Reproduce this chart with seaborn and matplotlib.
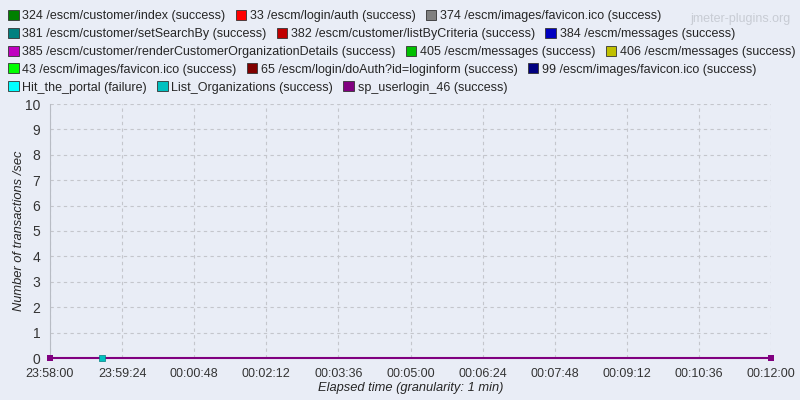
import numpy as np
import pandas as pd
import matplotlib
matplotlib.use("Agg")
import matplotlib.pyplot as plt
import matplotlib.patches as mpatches
import seaborn as sns

# =========================
# Datos
# =========================
labels = [
    "324 /escm/customer/index (success)", "33 /escm/login/auth (success)", "374 /escm/images/favicon.ico (success)",
    "381 /escm/customer/setSearchBy (success)", "382 /escm/customer/listByCriteria (success)", "384 /escm/messages (success)",
    "385 /escm/customer/renderCustomerOrganizationDetails (success)", "405 /escm/messages (success)", "406 /escm/messages (success)",
    "43 /escm/images/favicon.ico (success)", "65 /escm/login/doAuth?id=loginform (success)", "99 /escm/images/favicon.ico (success)",
    "Hit_the_portal (failure)", "List_Organizations (success)", "sp_userlogin_46 (success)",
]
colores = [
    "#008000", "#ff0000", "#808080",
    "#008080", "#c00000", "#0000c0",
    "#c000c0", "#00c000", "#c0c000",
    "#00ff00", "#800000", "#000080",
    "#00ffff", "#00c0c0", "#800080",
]

# segundos desde 23:58:00
userlogin_t = [0, 840]
userlogin_v = [0, 0]
listorg_t = [60]
listorg_v = [0]

tick_pos = [0, 84, 168, 252, 336, 420, 504, 588, 672, 756, 840]
tick_labels = ["23:58:00", "23:59:24", "00:00:48", "00:02:12", "00:03:36", "00:05:00",
               "00:06:24", "00:07:48", "00:09:12", "00:10:36", "00:12:00"]

df_user = pd.DataFrame({"t": userlogin_t, "v": userlogin_v})
df_list = pd.DataFrame({"t": listorg_t, "v": listorg_v})

# =========================
# Grafico
# =========================
sns.set_style("white")
plt.rcParams["font.family"] = ["Liberation Sans", "DejaVu Sans"]
bg = "#e9edf6"

fig = plt.figure(figsize=(8, 4), dpi=100, facecolor=bg)
ax = fig.add_axes([0.0625, 0.105, 0.9015, 0.635], facecolor=bg)

sns.lineplot(data=df_user, x="t", y="v", ax=ax, color=colores[14], lw=1.5,
             marker="s", markersize=4.5, markeredgewidth=0, clip_on=False, zorder=6)
sns.scatterplot(data=df_list, x="t", y="v", ax=ax, color=colores[13], marker="s",
                s=16, edgecolor=colores[3], linewidth=0.5, zorder=7, clip_on=False)

ax.set_xlim(0, 840)
ax.set_ylim(0, 10)
ax.set_xticks(tick_pos)
ax.set_xticklabels(tick_labels, fontsize=9.0, color="#333333")
ax.set_yticks(range(0, 11))
ax.tick_params(axis="y", labelsize=10, colors="#333333", length=4, color="#b0b4bc", pad=3)
ax.tick_params(axis="x", length=0, pad=7)
ax.grid(True, color="#c4c6cc", ls=(0, (3, 3)), lw=0.8)
for s in ["top", "right", "bottom"]:
    ax.spines[s].set_visible(False)
ax.spines["left"].set_color("#b8bcc4")
ax.set_xlabel("Elapsed time (granularity: 1 min)", fontsize=9.3, style="italic", labelpad=2)
ax.set_ylabel("Number of transactions /sec", fontsize=9.3, style="italic")
ax.yaxis.set_label_coords(-0.034, 0.5)

# leyenda: una fila por legend para que fluya como en el original
for r in range(5):
    handles = [mpatches.Patch(facecolor=colores[r * 3 + i], edgecolor="#333333", lw=0.6,
                              label=labels[r * 3 + i]) for i in range(3)]
    fig.legend(handles=handles, ncol=3, loc="upper left", bbox_to_anchor=(0.01, 0.975 - r * 0.0445),
               frameon=False, fontsize=9.0, handlelength=0.85, handleheight=0.85,
               handletextpad=0.3, columnspacing=0.8, borderaxespad=0, borderpad=0)

fig.text(0.988, 0.952, "jmeter-plugins.org", ha="right", va="center", fontsize=9, color="#c8ccd4")

fig.savefig("out.png", dpi=100, facecolor=bg)
